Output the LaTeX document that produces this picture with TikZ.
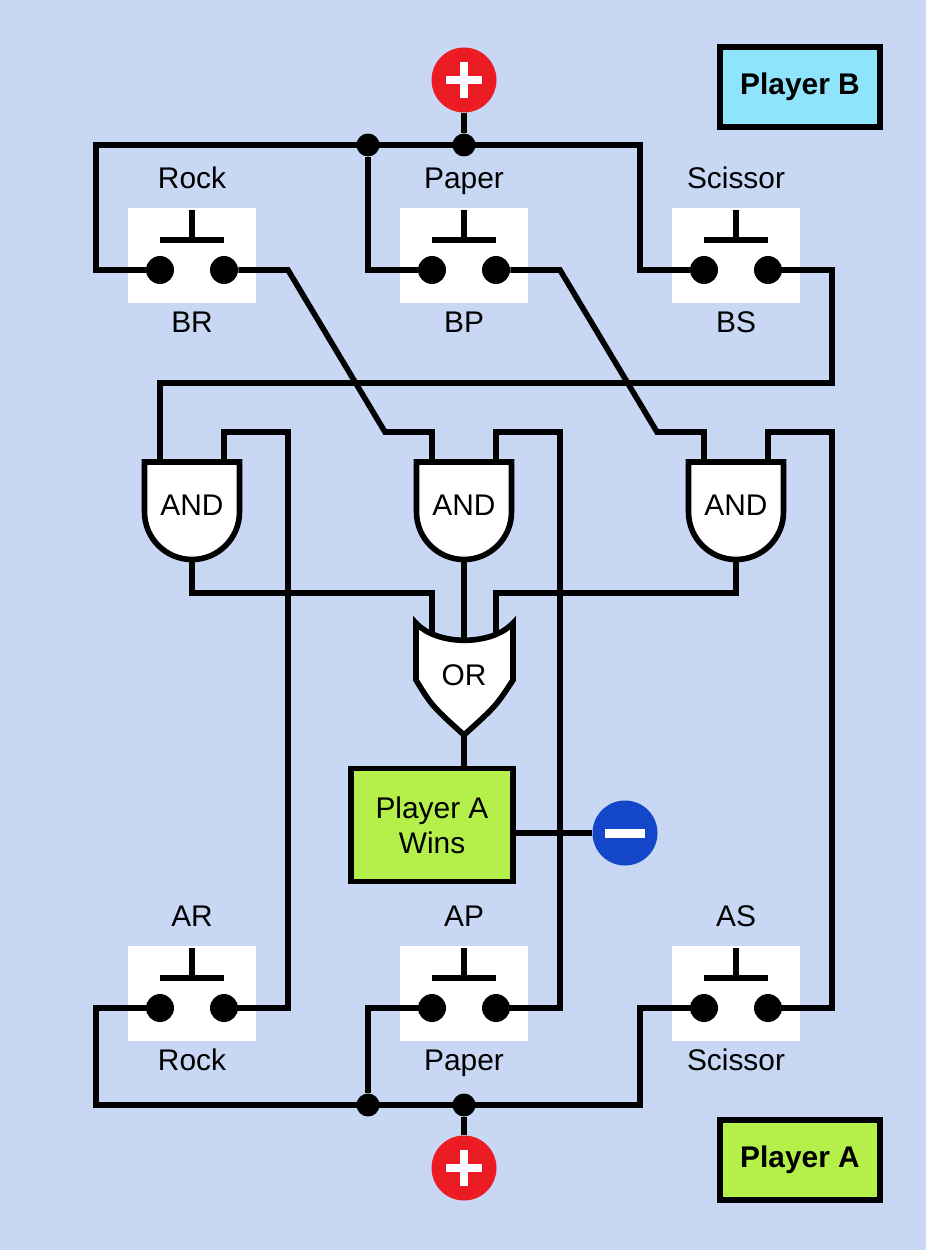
\documentclass[tikz,border=0pt]{standalone}
\usepackage{fontspec}
\setmainfont{Liberation Sans}
\definecolor{bgblue}{HTML}{C8D7F4}
\definecolor{boxcyan}{HTML}{8FE3FA}
\definecolor{boxgreen}{HTML}{B4EF4A}
\definecolor{plusred}{HTML}{EC1C24}
\definecolor{minusblue}{HTML}{1346C9}
\tikzset{
  wire/.style={line width=3.2pt, line join=miter},
  lbl/.style={font=\fontsize{17}{20}\selectfont, text height=12pt, text depth=3.5pt},
  dot/.style={circle, fill=black, inner sep=0pt, minimum size=0.56cm},
  jdot/.style={circle, fill=black, inner sep=0pt, minimum size=0.46cm},
  gate/.style={wire, fill=white},
  terminal/.style={circle, inner sep=0pt, minimum size=1.3cm},
}
\newcommand\pushsw[5]{% name, x, y(contacts), top label, bottom label
  \fill[white] (#2-64,#3-62) rectangle (#2+64,#3+33);
  \draw[wire] (#2,#3-60) -- (#2,#3-30) (#2-32,#3-30) -- (#2+32,#3-30);
  \node[dot] (#1l) at (#2-32,#3) {};
  \node[dot] (#1r) at (#2+32,#3) {};
  \node[lbl] (#1top) at (#2,#3-89) {#4};
  \node[lbl] (#1bot) at (#2,#3+55) {#5};
}
\newcommand\andgate[2]{% name, x
  \draw[gate] (#2-47.5,462) -- (#2+47.5,462) -- (#2+47.5,512) arc (0:180:47.5) -- cycle;
  \node[lbl] (#1) at (#2,508) {AND};
  \coordinate (#1a) at (#2-32,462);
  \coordinate (#1b) at (#2+32,462);
  \coordinate (#1o) at (#2,560);
}
\begin{document}
\begin{tikzpicture}[x=0.02cm, y=-0.02cm]
  \fill[bgblue] (0,0) rectangle (926,1250);

  % player boxes
  \node[wire, draw, fill=boxcyan, minimum width=3.2cm, minimum height=1.6cm, font=\fontsize{17}{20}\selectfont\bfseries] (pB) at (800,87) {Player B};
  \node[wire, draw, fill=boxgreen, minimum width=3.2cm, minimum height=1.6cm, font=\fontsize{17}{20}\selectfont\bfseries] (pA) at (800,1160) {Player A};

  % switches
  \pushsw{br}{192}{270}{Rock}{BR}
  \pushsw{bp}{464}{270}{Paper}{BP}
  \pushsw{bs}{736}{270}{Scissor}{BS}
  \pushsw{ar}{192}{1008}{AR}{Rock}
  \pushsw{ap}{464}{1008}{AP}{Paper}
  \pushsw{as}{736}{1008}{AS}{Scissor}

  % gates
  \andgate{and1}{192}
  \andgate{and2}{464}
  \andgate{and3}{736}
  \draw[gate] (416,623) -- (416,680) .. controls (432,706) .. (464,735) .. controls (496,706) .. (513,680)
    -- (513,623) .. controls (492,646) and (437,646) .. (416,623) -- cycle;
  \node[lbl] (or) at (464,678) {OR};
  \coordinate (ora) at (432,634);
  \coordinate (orb) at (464,640);
  \coordinate (orc) at (496,634);
  \coordinate (oro) at (464,735);

  \node[wire, draw, fill=boxgreen, minimum width=3.24cm, minimum height=2.26cm, align=center, font=\fontsize{17}{20}\selectfont] (win) at (432,825) {Player A\\Wins};

  % supply terminals
  \node[terminal, fill=plusred] (plusB) at (464,80) {};
  \node[terminal, fill=plusred] (plusA) at (464,1168) {};
  \node[terminal, fill=minusblue] (minus) at (625,833) {};
  \foreach \t in {plusB, plusA} {
    \fill[white] ([xshift=-0.36cm, yshift=-0.08cm]\t.center) rectangle ([xshift=0.36cm, yshift=0.08cm]\t.center);
    \fill[white] ([xshift=-0.08cm, yshift=-0.36cm]\t.center) rectangle ([xshift=0.08cm, yshift=0.36cm]\t.center);
  }
  \fill[white] ([xshift=-0.4cm, yshift=-0.09cm]minus.center) rectangle ([xshift=0.4cm, yshift=0.09cm]minus.center);

  % top supply bus
  \node[jdot] (jB1) at (368,145) {};
  \node[jdot] (jB2) at (464,145) {};
  \draw[wire] (plusB) -- (jB2);
  \draw[wire] (brl) -| (96,145) -- (640,145) |- (bsl);
  \draw[wire] (jB1) |- (bpl);

  % bottom supply bus
  \node[jdot] (jA1) at (368,1105) {};
  \node[jdot] (jA2) at (464,1105) {};
  \draw[wire] (plusA) -- (jA2);
  \draw[wire] (arl) -| (96,1105) -- (640,1105) |- (asl);
  \draw[wire] (jA1) |- (apl);

  % player B contacts to gates
  \draw[wire] (brr) -- (288,270) -- (385,432) -| (and2a);
  \draw[wire] (bpr) -- (560,270) -- (657,432) -| (and3a);
  \draw[wire] (bsr) -| (832,383) -| (and1a);

  % player A contacts to gates
  \draw[wire] (arr) -| (288,432) -| (and1b);
  \draw[wire] (apr) -| (560,432) -| (and2b);
  \draw[wire] (asr) -| (832,432) -| (and3b);

  % gates to OR and output
  \draw[wire] (and1o) |- (432,593) -- (ora);
  \draw[wire] (and2o) -- (orb);
  \draw[wire] (and3o) |- (496,593) -- (orc);
  \draw[wire] (oro) -- (oro |- win.north);
  \draw[wire] (win.east |- minus) -- (minus);
\end{tikzpicture}
\end{document}
